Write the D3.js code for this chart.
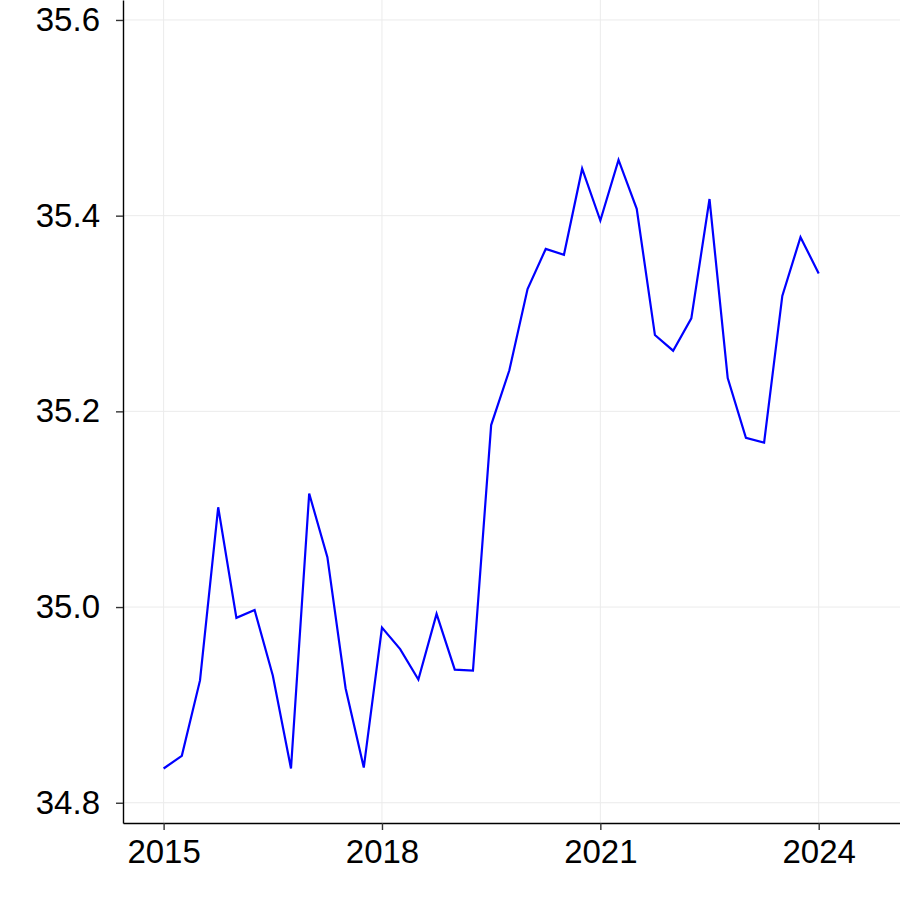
<!DOCTYPE html>
<html>
<head>
<meta charset="utf-8">
<script src="https://cdn.jsdelivr.net/npm/d3@7"></script>
<style>
  body { margin: 0; background: #fff; }
  svg { display: block; }
  text { font-family: "Liberation Sans", Arial, sans-serif; }
</style>
</head>
<body>
<div id="chart"></div>
<script>
// quarterly series, 2015 Q1 - 2024 Q1
var quarters = [
    '2015Q1','2015Q2','2015Q3','2015Q4',
    '2016Q1','2016Q2','2016Q3','2016Q4',
    '2017Q1','2017Q2','2017Q3','2017Q4',
    '2018Q1','2018Q2','2018Q3','2018Q4',
    '2019Q1','2019Q2','2019Q3','2019Q4',
    '2020Q1','2020Q2','2020Q3','2020Q4',
    '2021Q1','2021Q2','2021Q3','2021Q4',
    '2022Q1','2022Q2','2022Q3','2022Q4',
    '2023Q1','2023Q2','2023Q3','2023Q4',
    '2024Q1'
];
var values = [
    34.835, 34.848, 34.925, 35.102,
    34.989, 34.997, 34.930, 34.835,
    35.116, 35.051, 34.917, 34.836,
    34.979, 34.957, 34.926, 34.993,
    34.936, 34.935, 35.186, 35.242,
    35.325, 35.366, 35.360, 35.448,
    35.395, 35.457, 35.407, 35.278,
    35.262, 35.295, 35.417, 35.234,
    35.173, 35.168, 35.318, 35.378,
    35.341
];
var xTicks = [2015, 2018, 2021, 2024];
var yTicks = [34.8, 35.0, 35.2, 35.4, 35.6];

var W = 900, H = 900;
var left = 123, bottom = 823;

// "2015Q3" -> 2015.5
function toYear(q) {
    return +q.slice(0, 4) + (+q.slice(5) - 1) / 4;
}
var data = quarters.map(function(q, i) { return {t: toYear(q), v: values[i]}; });

var x = d3.scaleLinear().domain([2014.442, 2025.117]).range([left, W]);
var y = d3.scaleLinear().domain([34.7793, 35.6204]).range([bottom, 0]);

var svg = d3.select('#chart').append('svg').attr('width', W).attr('height', H);

// grid
svg.append('g').selectAll('line').data(yTicks).enter().append('line')
    .attr('x1', left).attr('x2', W)
    .attr('y1', function(d) { return y(d); }).attr('y2', function(d) { return y(d); })
    .attr('stroke', '#ebebeb').attr('stroke-width', 1);
svg.append('g').selectAll('line').data(xTicks).enter().append('line')
    .attr('y1', 0).attr('y2', bottom)
    .attr('x1', function(d) { return x(d); }).attr('x2', function(d) { return x(d); })
    .attr('stroke', '#ebebeb').attr('stroke-width', 1);

// line
var line = d3.line().x(function(d) { return x(d.t); }).y(function(d) { return y(d.v); });
svg.append('path').datum(data)
    .attr('d', line)
    .attr('fill', 'none')
    .attr('stroke', '#0000ff')
    .attr('stroke-width', 2.2)
    .attr('stroke-linejoin', 'miter');

// axes
var yAxis = d3.axisLeft(y).tickValues(yTicks).tickFormat(d3.format('.1f')).tickSizeInner(7).tickSizeOuter(0).tickPadding(16);
var xAxis = d3.axisBottom(x).tickValues(xTicks).tickFormat(d3.format('d')).tickSizeInner(7).tickSizeOuter(0).tickPadding(10);

var gy = svg.append('g').attr('transform', 'translate(' + left + ',0)').call(yAxis);
var gx = svg.append('g').attr('transform', 'translate(0,' + bottom + ')').call(xAxis);

[gx, gy].forEach(function(g) {
    g.select('.domain').attr('stroke', '#000').attr('stroke-width', 1.4);
    g.selectAll('.tick line').attr('stroke', '#333').attr('stroke-width', 1.4);
    g.selectAll('.tick text').attr('fill', '#000').style('font-size', '33px')
        .style('font-family', '"Liberation Sans", Arial, sans-serif');
});
</script>
</body>
</html>
